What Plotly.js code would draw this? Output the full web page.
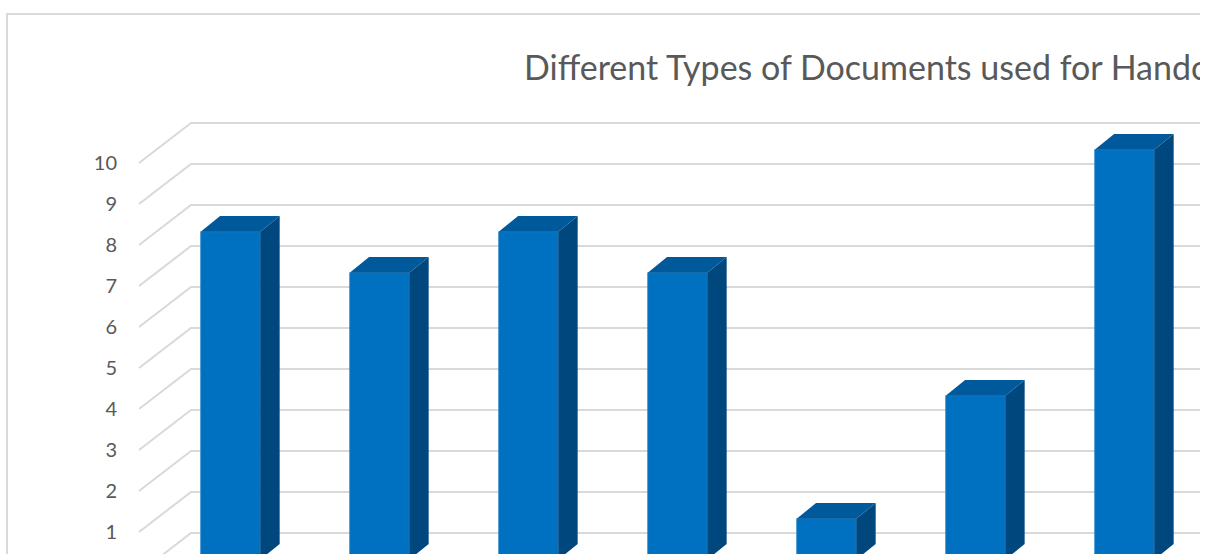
<!DOCTYPE html>
<html>
<head>
<meta charset="utf-8">
<script src="https://cdn.plot.ly/plotly-3.0.1.min.js"></script>
<style>
  html, body { margin: 0; padding: 0; background: #ffffff; }
  #wrap { position: relative; width: 1200px; height: 554px; overflow: hidden; background: #ffffff; }
  #frame { position: absolute; left: 6px; top: 13px; border: 2px solid #d9d9d9; }
  #chart { width: 1783px; height: 605px; }
</style>
</head>
<body>
<div id="wrap"><div id="frame"><div id="chart"></div></div></div>
<script>
// ---- data ----
const chartTitle = "Different Types of Documents used for Handover";
const values = [8, 7, 8, 7, 1, 4, 10];
const gridValues = [0, 1, 2, 3, 4, 5, 6, 7, 8, 9, 10];
const yTickValues = [1, 2, 3, 4, 5, 6, 7, 8, 9, 10];
const yTickLabels = ["1", "2", "3", "4", "5", "6", "7", "8", "9", "10"];

// ---- style / 3D geometry (in axis units) ----
const W = 1783, H = 605;
const xRange = [-0.7349, 10.339];
const yRange = [-0.6585, 11.537];
const barWidth = 0.4;
const baseLift = 0.325;     // bar front face sits a bit into the depth
const depthX = 0.13, depthY = 0.383;   // bar depth offsets
const wallFrontX = -0.614, wallBackX = -0.265, wallDepthY = 0.976;
const frontColor = "#0070c0", topColor = "#00599b", sideColor = "#00477d";
const gridColor = "#d9d9d9";

const traces = [];

// back wall + side wall gridlines
const gx = [], gy = [];
gridValues.forEach(g => {
  gx.push(wallFrontX, wallBackX, xRange[1], null);
  gy.push(g, g + wallDepthY, g + wallDepthY, null);
});
traces.push({type: "scatter", mode: "lines", x: gx, y: gy,
  line: {color: gridColor, width: 2}, hoverinfo: "skip", showlegend: false});

// bars: front, side and top faces
values.forEach((v, i) => {
  const l = i - barWidth / 2, r = i + barWidth / 2;
  const t = v + baseLift, b = baseLift;
  traces.push({type: "scatter", mode: "lines", fill: "toself", fillcolor: frontColor,
    x: [l, r, r, l, l], y: [b, b, t, t, b],
    line: {width: 0.8, color: "#2a84c8"}, hoverinfo: "skip", showlegend: false});
  traces.push({type: "scatter", mode: "lines", fill: "toself", fillcolor: sideColor,
    x: [r, r + depthX, r + depthX, r, r], y: [t, t + depthY, b + depthY, b, t],
    line: {width: 0, color: sideColor}, hoverinfo: "skip", showlegend: false});
  traces.push({type: "scatter", mode: "lines", fill: "toself", fillcolor: topColor,
    x: [l, l + depthX, r + depthX, r, l], y: [t, t + depthY, t + depthY, t, t],
    line: {width: 0, color: topColor}, hoverinfo: "skip", showlegend: false});
});

const layout = {
  width: W, height: H,
  margin: {l: 113, r: 20, t: 85, b: 20, pad: 0},
  paper_bgcolor: "#ffffff", plot_bgcolor: "#ffffff",
  font: {family: "Lato, 'Open Sans', sans-serif", color: "#595959"},
  title: {text: chartTitle, xref: "container", yref: "container",
    x: (524 - 8) / W, xanchor: "left", y: 1 - 53 / H, yanchor: "middle",
    font: {family: "Lato, sans-serif", size: 34, color: "#595959"}},
  xaxis: {range: xRange, showgrid: false, zeroline: false, showline: false,
    showticklabels: false, ticks: "", fixedrange: true},
  yaxis: {range: yRange, showgrid: false, zeroline: false, showline: false,
    tickmode: "array", tickvals: yTickValues, ticktext: yTickLabels, ticks: "",
    ticklabelstandoff: 3,
    tickfont: {family: "Lato, sans-serif", size: 20, color: "#595959"}, fixedrange: true},
  showlegend: false
};

Plotly.newPlot("chart", traces, layout, {staticPlot: true, displayModeBar: false});
</script>
</body>
</html>
